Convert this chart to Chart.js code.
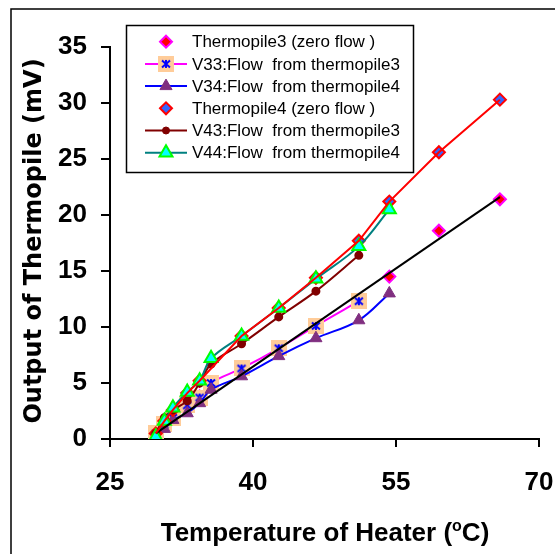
<!DOCTYPE html>
<html>
<head>
<meta charset="utf-8">
<script src="https://cdn.jsdelivr.net/npm/chart.js@4.4.1/dist/chart.umd.min.js"></script>
<style>
html, body { margin: 0; padding: 0; background: #fff; }
</style>
</head>
<body>
<canvas id="chart" width="555" height="554"></canvas>
<script>
// heater temperature (oC) shared by all series
var temps = [29.8, 30.7, 31.6, 33.1, 34.4, 35.6, 38.8, 42.7, 46.6, 51.1, 54.3, 59.5, 65.9]

// thermopile output (mV)
var thermo3 = [0.5, 1.3, 2.0, 3.0, 3.8, 5.0, 6.3, 8.1, 10.1, 12.4, 14.5, 18.6, 21.4]
var v33 = [0.5, 1.3, 1.9, 3.0, 3.7, 5.0, 6.3, 8.1, 10.1, 12.3]
var v34 = [0.1, 0.9, 1.7, 2.3, 3.2, 4.4, 5.6, 7.4, 9.0, 10.6, 13.0]
var thermo4 = [0.5, 1.6, 2.6, 4.1, 5.2, null, 9.2, 11.7, 14.4, 17.7, 21.2, 25.6, 30.3]
var v43 = [0.5, 1.9, 2.6, 3.4, 5.0, 6.7, 8.5, 10.9, 13.2, 16.4]
var v44 = [0.2, 1.6, 2.8, 4.2, 5.2, 7.2, 9.2, 11.7, 14.3, 17.2, 20.5]

// linear trend of thermopile3 (zero flow)
var trendX = [29.8, 65.9]
var trend3 = [0.5, 21.6]

var xTicks = [25, 40, 55, 70]
var yTicks = [0, 5, 10, 15, 20, 25, 30, 35]

function pts(xs, ys) {
    var out = []
    for (var i = 0; i < ys.length; i++) {
        out.push({ x: xs[i], y: ys[i] })
    }
    return out
}

function starMarker() {
    var c = document.createElement('canvas')
    c.width = 16
    c.height = 16
    var g = c.getContext('2d')
    g.fillStyle = '#FFCC99'
    g.fillRect(0, 0, 16, 16)
    g.strokeStyle = '#0000FF'
    g.lineWidth = 2
    g.beginPath()
    g.moveTo(4, 4.5); g.lineTo(12, 11.5)
    g.moveTo(12, 4.5); g.lineTo(4, 11.5)
    g.moveTo(8, 4); g.lineTo(8, 12)
    g.stroke()
    return c
}

var datasets = [{
    label: 'Thermopile3 (zero flow )',
    data: pts(temps, thermo3),
    showLine: false,
    pointStyle: 'rectRot', pointRadius: 6,
    backgroundColor: '#FF0000', borderColor: '#FF00FF', borderWidth: 2,
    order: 6, legendRow: 0
}, {
    label: 'V33:Flow  from thermopile3',
    data: pts(temps, v33),
    showLine: true, tension: 0.35,
    borderColor: '#FF00FF', borderWidth: 2,
    pointStyle: starMarker(), pointRadius: 8,
    order: 5, legendRow: 1
}, {
    label: 'V34:Flow  from thermopile4',
    data: pts(temps, v34),
    showLine: true, tension: 0.35,
    borderColor: '#0000FF', borderWidth: 2,
    pointStyle: 'triangle', pointRadius: 7,
    pointBackgroundColor: '#802F80', pointBorderColor: '#802F80', pointBorderWidth: 1,
    order: 4, legendRow: 2
}, {
    label: 'Thermopile4 (zero flow )',
    data: pts(temps, thermo4),
    showLine: false,
    pointStyle: 'rectRot', pointRadius: 6,
    backgroundColor: '#3366FF', borderColor: '#FF0000', borderWidth: 2,
    order: 3, legendRow: 3
}, {
    label: 'V43:Flow  from thermopile3',
    data: pts(temps, v43),
    showLine: true, tension: 0.35,
    borderColor: '#800000', borderWidth: 2,
    pointStyle: 'circle', pointRadius: 3.5,
    pointBackgroundColor: '#800000', pointBorderColor: '#800000',
    order: 2, legendRow: 4
}, {
    label: 'V44:Flow  from thermopile4',
    data: pts(temps, v44),
    showLine: true, tension: 0.35,
    borderColor: '#008080', borderWidth: 2,
    pointStyle: 'triangle', pointRadius: 7.5,
    pointBackgroundColor: '#00FFFF', pointBorderColor: '#00FF00', pointBorderWidth: 2,
    order: 1, legendRow: 5
}, {
    label: 'trend4',
    data: pts(temps, thermo4),
    showLine: true, spanGaps: true, tension: 0,
    borderColor: '#FF0000', borderWidth: 2,
    pointRadius: 0,
    order: 0
}, {
    label: 'trend3',
    data: pts(trendX, trend3),
    showLine: true, tension: 0,
    borderColor: '#000000', borderWidth: 2,
    pointRadius: 0,
    order: 0
}]

var tickFont = { family: '"Liberation Sans", Arial, sans-serif', size: 26, weight: 'bold' }

var decor = {
    id: 'decor',
    beforeDraw: function(chart) {
        var ctx = chart.ctx
        ctx.save()
        ctx.fillStyle = '#fff'
        ctx.fillRect(0, 0, chart.width, chart.height)
        ctx.restore()
    },
    afterDraw: function(chart) {
        var ctx = chart.ctx
        ctx.save()

        // outer frame (only left and top are visible)
        ctx.strokeStyle = '#000'
        ctx.lineWidth = 1.5
        ctx.strokeRect(11, 9, 600, 600)

        // y title
        ctx.save()
        ctx.translate(41, 241)
        ctx.rotate(-Math.PI / 2)
        ctx.font = 'bold 24px "DejaVu Sans", sans-serif'
        ctx.fillStyle = '#000'
        ctx.textAlign = 'center'
        ctx.textBaseline = 'alphabetic'
        ctx.fillText('Output of Thermopile (mV)', 0, 0)
        ctx.restore()

        // x title with superscript o
        var big = 'bold 26px "Liberation Sans", Arial, sans-serif'
        var small = 'bold 16px "Liberation Sans", Arial, sans-serif'
        var p1 = 'Temperature of Heater (', p2 = 'o', p3 = 'C)'
        ctx.font = big
        var w1 = ctx.measureText(p1).width, w3 = ctx.measureText(p3).width
        ctx.font = small
        var w2 = ctx.measureText(p2).width
        var x0 = 325 - (w1 + w2 + w3) / 2
        var base = 541
        ctx.fillStyle = '#000'
        ctx.textAlign = 'left'
        ctx.textBaseline = 'alphabetic'
        ctx.font = big
        ctx.fillText(p1, x0, base)
        ctx.font = small
        ctx.fillText(p2, x0 + w1, base - 10)
        ctx.font = big
        ctx.fillText(p3, x0 + w1 + w2, base)

        // legend box
        var lx = 126.5, ly = 25.5, lw = 287, lh = 147
        ctx.fillStyle = '#fff'
        ctx.fillRect(lx, ly, lw, lh)
        ctx.strokeStyle = '#000'
        ctx.lineWidth = 1.5
        ctx.strokeRect(lx, ly, lw, lh)

        ctx.font = '17px "Liberation Sans", Arial, sans-serif'
        ctx.textBaseline = 'middle'
        chart.data.datasets.forEach(function(ds) {
            if (ds.legendRow === undefined) return
            var y = 41.7 + ds.legendRow * 22.2
            if (ds.showLine) {
                ctx.strokeStyle = ds.borderColor
                ctx.lineWidth = 2
                ctx.beginPath()
                ctx.moveTo(145, y)
                ctx.lineTo(187, y)
                ctx.stroke()
            }
            ctx.fillStyle = ds.pointBackgroundColor || ds.backgroundColor || '#000'
            ctx.strokeStyle = ds.pointBorderColor || ds.borderColor
            var bw = ds.pointBorderWidth !== undefined ? ds.pointBorderWidth : (ds.showLine ? 1 : ds.borderWidth)
            ctx.lineWidth = bw
            Chart.helpers.drawPoint(ctx, {
                pointStyle: ds.pointStyle,
                radius: ds.pointRadius,
                rotation: 0,
                borderWidth: bw
            }, 166, y)
            ctx.fillStyle = '#000'
            ctx.fillText(ds.label, 192, y + 1)
        })

        ctx.restore()
    }
}

new Chart(document.getElementById('chart'), {
    type: 'scatter',
    data: { datasets: datasets },
    options: {
        responsive: false,
        animation: false,
        layout: { autoPadding: false, padding: { top: 47, right: 16, left: 0, bottom: 0 } },
        plugins: {
            legend: { display: false },
            tooltip: { enabled: false }
        },
        scales: {
            x: {
                type: 'linear',
                min: 25, max: 70,
                afterBuildTicks: function(scale) {
                    scale.ticks = xTicks.map(function(v) { return { value: v } })
                },
                afterFit: function(scale) {
                    scale.height = 115
                    scale.paddingRight = 0
                    scale.paddingLeft = 0
                },
                ticks: { font: tickFont, color: '#000', padding: 20, maxRotation: 0 },
                grid: { drawOnChartArea: false, tickLength: 8, color: '#000', lineWidth: 2 },
                border: { color: '#000', width: 2 }
            },
            y: {
                min: 0, max: 35,
                afterBuildTicks: function(scale) {
                    scale.ticks = yTicks.map(function(v) { return { value: v } })
                },
                afterFit: function(scale) {
                    scale.width = 110
                    scale.paddingTop = 0
                    scale.paddingBottom = 0
                },
                ticks: { font: tickFont, color: '#000', padding: 14 },
                grid: { drawOnChartArea: false, tickLength: 9, color: '#000', lineWidth: 2 },
                border: { color: '#000', width: 2 }
            }
        }
    },
    plugins: [decor]
})
</script>
</body>
</html>
